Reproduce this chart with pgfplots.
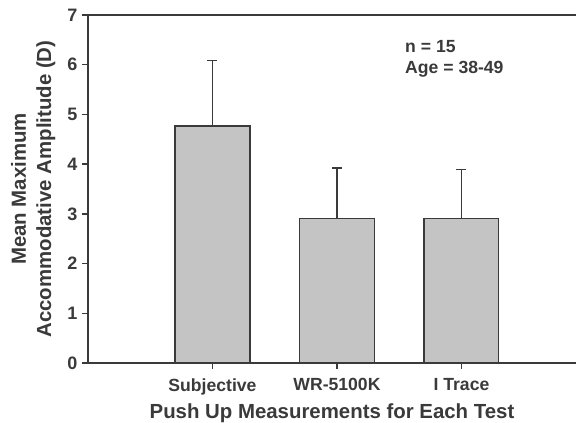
\documentclass[border=0pt]{standalone}
\usepackage{pgfplots}
\pgfplotsset{compat=1.18}
\usepackage{fontspec}
\setmainfont{Liberation Sans}
\definecolor{axcol}{HTML}{3A3A3A}
\definecolor{barfill}{HTML}{C4C4C4}
\begin{document}
\begin{tikzpicture}
\begin{axis}[
  scale only axis,
  width=366pt, height=261pt,
  xmin=-1.0, xmax=2.92,
  ymin=0, ymax=7,
  axis x line*=bottom, axis y line*=left,
  axis line style={-, draw=axcol, line width=1pt},
  every tick/.style={draw=axcol, line width=1pt},
  tick align=outside,
  major tick length=4.5pt,
  xtick={0,1,2},
  xticklabels={Subjective, WR-5100K, I Trace},
  ytick={0,1,2,3,4,5,6,7},
  /pgf/number format/assume math mode=true,
  ticklabel style={font=\fontsize{13.5}{15}\selectfont\bfseries, text=axcol},
  xticklabel style={font=\fontsize{13.2}{15}\selectfont\bfseries, text=axcol, yshift=-3.5pt},
  xlabel={Push Up Measurements for Each Test},
  ylabel={Mean Maximum\\Accommodative Amplitude (D)},
  label style={font=\fontsize{15.3}{19}\selectfont\bfseries, text=axcol},
  xlabel style={yshift=0pt},
  ylabel style={align=center, yshift=2pt},
  clip=false,
]
\addplot[ybar, bar width=0.6, fill=barfill, draw=axcol, line width=1pt,
  error bars/.cd, y dir=plus, y explicit,
  error bar style={draw=axcol, line width=1pt},
  error mark options={draw=axcol, line width=1pt, mark size=3.75pt, rotate=90}]
  coordinates {
    (0,4.77) +- (0,1.31)
    (1,2.90) +- (0,1.02)
    (2,2.90) +- (0,0.99)
  };
\draw[axcol, line width=1pt] (rel axis cs:0,1) -- (rel axis cs:1,1);
\node[anchor=north west, align=left, inner sep=0pt, text=axcol,
  font=\fontsize{13.2}{15.75}\selectfont\bfseries] at (axis cs:1.546,6.5) {n = 15\\Age = 38-49};
\end{axis}
\pgfresetboundingbox
\path (current axis.south west) ++(-66pt,-45pt) rectangle ++(432pt,317.25pt);
\end{tikzpicture}
\end{document}
